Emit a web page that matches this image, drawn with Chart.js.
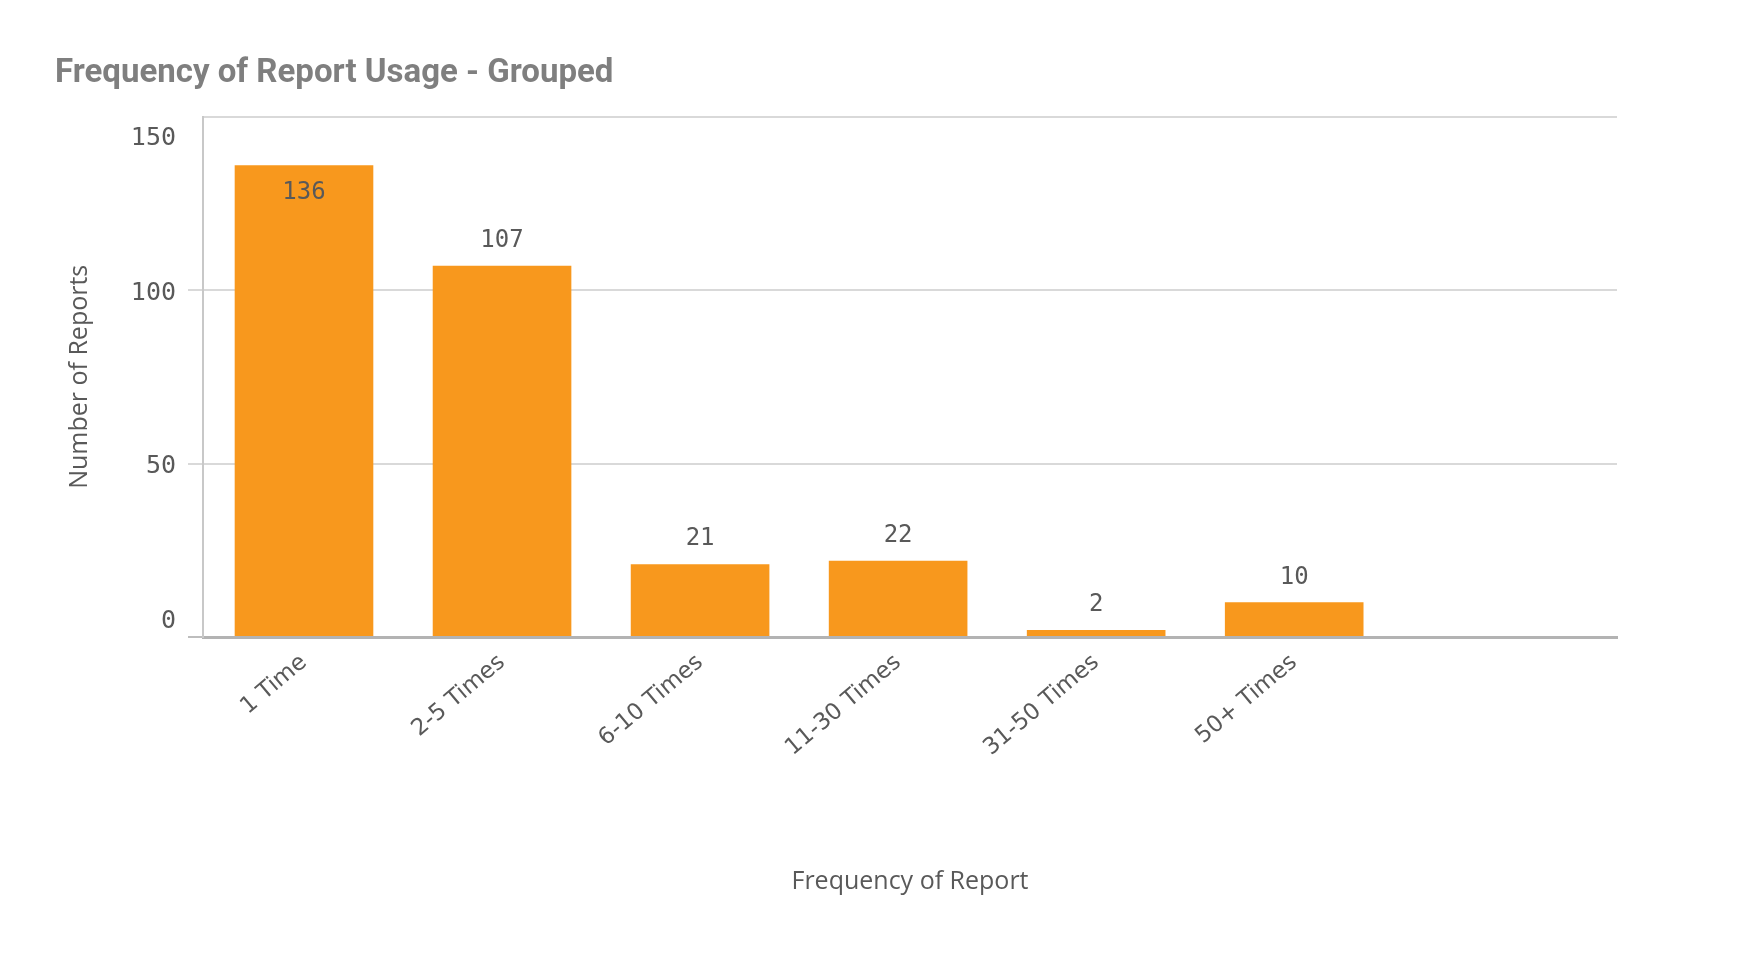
<!DOCTYPE html>
<html>
<head>
<meta charset="utf-8">
<title>Frequency of Report Usage - Grouped</title>
<script src="https://cdn.jsdelivr.net/npm/chart.js@4.4.1/dist/chart.umd.min.js"></script>
<style>
  html, body { margin: 0; padding: 0; background: #fff; }
  #chart { display: block; }
</style>
</head>
<body>
<canvas id="chart" width="1752" height="953"></canvas>
<script>
// --- 1. DATA ---
const categories = ['1 Time', '2-5 Times', '6-10 Times', '11-30 Times', '31-50 Times', '50+ Times'];
const reportCounts = [136, 107, 21, 22, 2, 10];
const yTicks = [0, 50, 100, 150];

// --- 2. STYLE ---
const COLORS = {
    bar: '#f8981d',     // Qlik orange
    title: '#7f7f7f',
    text: '#595959',
    grid: '#d9d9d9',
    axis: '#bdbdbd'
};

// the plot leaves room for about one more bar after the last one
const X_SLOTS = 7.14;
const X_START = -0.51;

const MONO = '"DejaVu Sans Mono", monospace';
const SANS = '"Open Sans", sans-serif';

// value labels above the bars, pushed inside when they get near the top
const valueLabels = {
    id: 'valueLabels',
    afterDatasetsDraw(chart) {
        const { ctx, chartArea } = chart;
        const meta = chart.getDatasetMeta(0);
        ctx.save();
        ctx.font = '24px ' + MONO;
        ctx.fillStyle = COLORS.text;
        ctx.textAlign = 'center';
        ctx.textBaseline = 'middle';
        meta.data.forEach((bar, i) => {
            let y = bar.y - 25;
            if (bar.y - 50 < chartArea.top) y = bar.y + 28;
            ctx.fillText(String(reportCounts[i]), bar.x, y);
        });
        ctx.restore();
    }
};

function initializeChart() {
    const ctx = document.getElementById('chart').getContext('2d');

    new Chart(ctx, {
        type: 'bar',
        data: {
            datasets: [{
                label: 'Number of Reports',
                data: reportCounts.map((v, i) => ({ x: i, y: v })),
                backgroundColor: COLORS.bar,
                borderWidth: 0,
                barPercentage: 0.7,
                categoryPercentage: 1
            }]
        },
        options: {
            responsive: false,
            animation: false,
            layout: { padding: { left: 55, right: 135, top: 0, bottom: 56 } },
            scales: {
                x: {
                    type: 'linear',
                    offset: false,
                    min: X_START,
                    max: X_START + X_SLOTS,
                    afterBuildTicks: s => { s.ticks = categories.map((c, i) => ({ value: i })); },
                    afterFit: s => { s.height = 260; },
                    grid: { display: false, drawTicks: false, offset: false },
                    border: { display: true, color: '#b3b3b3', width: 3 },
                    ticks: {
                        autoSkip: false,
                        minRotation: 40,
                        maxRotation: 40,
                        padding: 12,
                        color: COLORS.text,
                        font: { family: '"DejaVu Sans", sans-serif', size: 23 },
                        callback: v => categories[v] ?? ''
                    },
                    title: {
                        display: true,
                        text: 'Frequency of Report',
                        color: COLORS.text,
                        font: { family: SANS, size: 25 },
                        padding: { top: 0, bottom: 0 }
                    }
                },
                y: {
                    min: 0,
                    max: 150,
                    afterBuildTicks: s => { s.ticks = yTicks.map(v => ({ value: v })); },
                    afterFit: s => { s.width = 148; },
                    grid: {
                        color: c => c.tick && c.tick.value === 0 ? COLORS.axis : COLORS.grid,
                        tickColor: c => c.tick && c.tick.value === 150 ? 'rgba(0,0,0,0)' : (c.tick.value === 0 ? COLORS.axis : COLORS.grid),
                        lineWidth: 2,
                        tickLength: 15
                    },
                    border: { display: true, color: '#c8c8c8', width: 2 },
                    ticks: {
                        padding: 12,
                        labelOffset: 3,
                        color: COLORS.text,
                        font: { family: MONO, size: 25, lineHeight: 1.5 },
                        // top label sits under its line, bottom one above it
                        callback: v => v === 150 ? ['', '150'] : (v === 0 ? ['0', ''] : String(v))
                    },
                    title: {
                        display: true,
                        text: 'Number of Reports',
                        color: COLORS.text,
                        font: { family: SANS, size: 25 },
                        padding: { top: 10, bottom: 0 }
                    }
                }
            },
            plugins: {
                legend: { display: false },
                tooltip: { enabled: false },
                title: {
                    display: true,
                    text: 'Frequency of Report Usage - Grouped',
                    align: 'start',
                    color: COLORS.title,
                    font: { family: 'Roboto, sans-serif', size: 33, weight: 'bold' },
                    padding: { top: 54, bottom: 23 }
                }
            }
        },
        plugins: [valueLabels]
    });
}

document.addEventListener('DOMContentLoaded', initializeChart);
</script>
</body>
</html>
